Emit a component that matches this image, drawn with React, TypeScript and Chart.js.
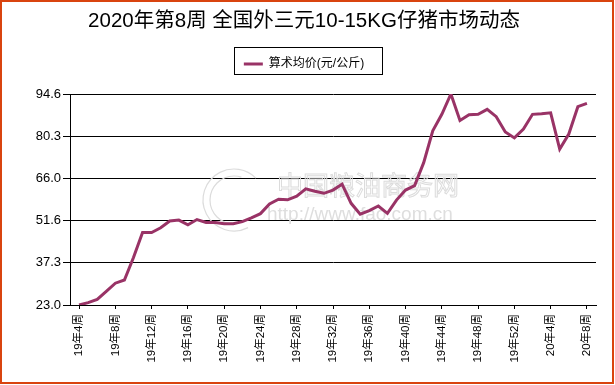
import React, { useEffect, useRef } from "react";
import { Chart, registerables } from "chart.js";

Chart.register(...registerables);

const TITLE = "2020年第8周 全国外三元10-15KG仔猪市场动态";
const SERIES_NAME = "算术均价(元/公斤)";

const weekLabels = [
  "19年4周", "19年5周", "19年6周", "19年7周", "19年8周", "19年9周", "19年10周", "19年11周",
  "19年12周", "19年13周", "19年14周", "19年15周", "19年16周", "19年17周", "19年18周", "19年19周",
  "19年20周", "19年21周", "19年22周", "19年23周", "19年24周", "19年25周", "19年26周", "19年27周",
  "19年28周", "19年29周", "19年30周", "19年31周", "19年32周", "19年33周", "19年34周", "19年35周",
  "19年36周", "19年37周", "19年38周", "19年39周", "19年40周", "19年41周", "19年42周", "19年43周",
  "19年44周", "19年45周", "19年46周", "19年47周", "19年48周", "19年49周", "19年50周", "19年51周",
  "19年52周", "20年1周", "20年2周", "20年3周", "20年4周", "20年5周", "20年6周", "20年7周",
  "20年8周",
];

const prices = [
  23.0, 23.8, 24.9, 27.6, 30.4, 31.5, 39.1, 47.6,
  47.6, 49.2, 51.5, 51.8, 50.2, 52.0, 51.0, 51.0,
  50.6, 50.6, 51.3, 52.6, 54.0, 57.3, 58.9, 58.7,
  59.9, 62.4, 61.6, 60.9, 62.0, 64.0, 57.5, 53.8,
  55.0, 56.6, 54.1, 58.6, 62.0, 63.5, 71.3, 82.1,
  87.7, 94.6, 85.6, 87.6, 87.7, 89.4, 86.9, 81.7,
  79.7, 82.7, 87.7, 87.9, 88.2, 75.9, 81.0, 90.3,
  91.4,
];

const yTickValues = [23.0, 37.32, 51.64, 65.96, 80.28, 94.6];
const xLabelEvery = 4;

const LINE_COLOR = "#993366";
const BORDER_COLOR = "#D9440F";
const FONT = "'Liberation Sans', Arial, 'Noto Sans CJK SC', sans-serif";

const decorPlugin = {
  id: "decor",
  beforeDatasetsDraw(chart: any) {
    const ctx = chart.ctx as CanvasRenderingContext2D;
    ctx.save();
    ctx.strokeStyle = "#dcdcdc";
    ctx.lineWidth = 1.2;
    ctx.beginPath();
    ctx.arc(234, 200, 31, Math.PI * 0.35, Math.PI * 1.75);
    ctx.stroke();
    ctx.beginPath();
    ctx.arc(234, 200, 24, Math.PI * 0.5, Math.PI * 1.6);
    ctx.stroke();
    ctx.font = "26px 'Noto Sans CJK SC', sans-serif";
    ctx.textBaseline = "middle";
    ctx.textAlign = "left";
    ctx.lineWidth = 1;
    ctx.strokeText("中国粮油商务网", 277, 185);
    ctx.font = "19px 'Liberation Sans', sans-serif";
    ctx.fillStyle = "#dedede";
    ctx.fillText("http://www.fao.com.cn", 267, 215);
    ctx.restore();
  },
  afterDraw(chart: any) {
    const ctx = chart.ctx as CanvasRenderingContext2D;
    ctx.save();
    const hb = chart.legend && chart.legend.legendHitBoxes && chart.legend.legendHitBoxes[0];
    if (hb) {
      ctx.strokeStyle = "#000";
      ctx.lineWidth = 1;
      const w = 148;
      const left = Math.round(chart.width / 2 - w / 2);
      ctx.strokeRect(left + 0.5, Math.round(hb.top - 11) + 0.5, w, 27);
    }
    ctx.strokeStyle = BORDER_COLOR;
    ctx.lineWidth = 2;
    ctx.strokeRect(1, 1, chart.width - 3, chart.height - 3);
    ctx.restore();
  },
};

export default function App() {
  const ref = useRef<HTMLCanvasElement | null>(null);

  useEffect(() => {
    document.body.style.margin = "0";
    const canvas = ref.current;
    if (!canvas) return;
    const chart = new Chart(canvas, {
      type: "line",
      data: {
        datasets: [
          {
            label: SERIES_NAME,
            data: prices.map((v, i) => ({ x: i, y: v })),
            borderColor: LINE_COLOR,
            backgroundColor: LINE_COLOR,
            borderWidth: 3,
            pointRadius: 0,
            pointHoverRadius: 0,
            tension: 0,
            fill: false,
            pointStyle: "line",
          },
        ],
      },
      options: {
        animation: false,
        responsive: false,
        devicePixelRatio: 1,
        layout: { padding: { left: 12, right: 19, top: 0, bottom: 0 } },
        plugins: {
          tooltip: { enabled: false },
          title: {
            display: true,
            text: TITLE,
            color: "#000",
            font: { family: FONT, size: 20.5, weight: "normal", lineHeight: 1.2 },
            padding: { top: 9, bottom: 6.4 },
          },
          legend: {
            display: true,
            position: "top",
            labels: {
              color: "#000",
              font: { family: FONT, size: 12 },
              usePointStyle: true,
              pointStyleWidth: 19,
              boxHeight: 12,
              padding: 18,
            },
          },
          subtitle: {
            display: true,
            text: "",
            weight: 500,
            font: { size: 10, lineHeight: 1 },
            padding: { top: 0, bottom: 4 },
          },
        },
        scales: {
          x: {
            type: "linear",
            min: -1,
            max: weekLabels.length,
            afterBuildTicks: (axis: any) => {
              const t: any[] = [];
              for (let i = 0; i < weekLabels.length; i += xLabelEvery) t.push({ value: i });
              axis.ticks = t;
            },
            afterFit: (axis: any) => {
              axis.height = 80;
            },
            ticks: {
              autoSkip: false,
              minRotation: 90,
              maxRotation: 90,
              padding: 5,
              color: "#000",
              font: { family: FONT, size: 11.5 },
              callback: (v: any) => weekLabels[v] ?? "",
            },
            grid: {
              drawOnChartArea: false,
              drawTicks: true,
              tickLength: 4,
              color: "#000",
            },
            border: { color: "#000", width: 1 },
          },
          y: {
            min: yTickValues[0],
            max: yTickValues[yTickValues.length - 1],
            afterBuildTicks: (axis: any) => {
              axis.ticks = yTickValues.map((v) => ({ value: v }));
            },
            afterFit: (axis: any) => {
              axis.width = 58;
            },
            ticks: {
              padding: 2,
              color: "#000",
              font: { family: FONT, size: 13 },
              callback: (v: any) => Number(v).toFixed(1),
            },
            grid: {
              color: "#000",
              lineWidth: 1,
              tickLength: 7,
            },
            border: { color: "#000", width: 1 },
          },
        },
      },
      plugins: [decorPlugin],
    });
    return () => chart.destroy();
  }, []);

  return (
    <div style={{ width: 615, height: 385 }}>
      <canvas ref={ref} width={615} height={385} style={{ display: "block" }} />
    </div>
  );
}
